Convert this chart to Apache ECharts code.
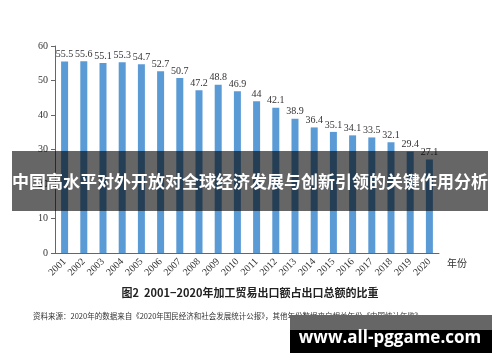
<!DOCTYPE html>
<html>
<head>
<meta charset="utf-8">
<script src="https://cdn.jsdelivr.net/npm/echarts@6/dist/echarts.min.js"></script>
<style>html,body{margin:0;padding:0;background:#fff;}#c{width:500px;height:362px;}</style>
</head>
<body>
<div id="c"></div>
<script>
const years = ['2001','2002','2003','2004','2005','2006','2007','2008','2009','2010','2011','2012','2013','2014','2015','2016','2017','2018','2019','2020'];
const shares = [55.5,55.6,55.1,55.3,54.7,52.7,50.7,47.2,48.8,46.9,44,42.1,38.9,36.4,35.1,34.1,33.5,32.1,29.4,27.1];
const yTicks = [0,10,20,30,40,50,60];
const axisUnit = '年份';
const caption = '图2  2001−2020年加工贸易出口额占出口总额的比重';
const sourceNote = '资料来源：2020年的数据来自《2020年国民经济和社会发展统计公报》，其他年份数据来自相关年份《中国统计年鉴》。';
const bannerTitle = '中国高水平对外开放对全球经济发展与创新引领的关键作用分析';
const watermark = 'www.all-pggame.com';

const serif = '"Liberation Serif", "DejaVu Serif", serif';
const cjk = '"Noto Sans CJK SC", sans-serif';
const chart = echarts.init(document.getElementById('c'), null, {renderer: 'canvas'});
chart.setOption({
  animation: false,
  backgroundColor: '#fff',
  grid: {left: 55, right: 61, top: 46, bottom: 109, containLabel: false},
  xAxis: {
    type: 'category',
    data: years,
    axisLine: {show: true, lineStyle: {color: '#666', width: 1}},
    axisTick: {show: false},
    axisLabel: {rotate: 45, fontFamily: serif, fontSize: 10, color: '#333', margin: 7, interval: 0},
    name: axisUnit,
    nameLocation: 'end',
    nameGap: 8,
    nameTextStyle: {fontFamily: cjk, fontSize: 10, color: '#333', verticalAlign: 'top', padding: [5, 0, 0, 0]}
  },
  yAxis: {
    type: 'value',
    min: 0, max: 60, interval: 10,
    axisLine: {show: true, lineStyle: {color: '#666', width: 1}},
    axisTick: {show: true, inside: false, length: 4, lineStyle: {color: '#666'}},
    axisLabel: {fontFamily: serif, fontSize: 10, color: '#333', margin: 7,
      formatter: v => yTicks.includes(v) ? String(v) : ''},
    splitLine: {show: false}
  },
  series: [{
    type: 'bar',
    data: shares,
    barWidth: 7,
    itemStyle: {color: '#5b9bd5'},
    label: {show: true, position: 'top', distance: 2, fontFamily: serif, fontSize: 10, color: '#333'}
  }],
  graphic: [
    {type: 'text', left: 'center', top: 287, z: 50,
      style: {text: caption, font: 'bold 11px ' + cjk, fill: '#222'}},
    {type: 'text', left: 33, top: 312, z: 50,
      style: {text: sourceNote, font: '7.5px ' + cjk, fill: '#333'}},
    {type: 'rect', z: 100, shape: {x: 12, y: 151, width: 476, height: 60},
      style: {fill: 'rgba(0,0,0,0.6)'}},
    {type: 'text', z: 101, x: 250, y: 182,
      style: {text: bannerTitle, font: 'bold 17px ' + cjk, fill: '#fff', textAlign: 'center', textVerticalAlign: 'middle'}},
    {type: 'rect', z: 100, shape: {x: 290, y: 315, width: 202, height: 15},
      style: {fill: '#666'}},
    {type: 'rect', z: 100, shape: {x: 290, y: 330, width: 202, height: 23},
      style: {fill: '#000'}},
    {type: 'text', z: 101, x: 390, y: 338,
      style: {text: watermark, font: 'bold 17px "Open Sans", sans-serif', fill: '#fff', textAlign: 'center', textVerticalAlign: 'middle'}}
  ]
});
</script>
</body>
</html>
